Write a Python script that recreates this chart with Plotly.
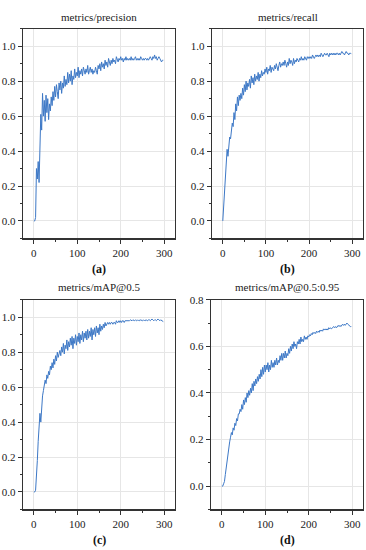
import plotly.graph_objects as go

epochs = list(range(0, 300, 2))

precision = [
    0.00, 0.00, 0.02, 0.30, 0.24, 0.34, 0.22, 0.45, 0.61, 0.52,
    0.73, 0.60, 0.69, 0.57, 0.72, 0.62, 0.70, 0.58, 0.67, 0.63,
    0.71, 0.66, 0.74, 0.69, 0.77, 0.71, 0.78, 0.74, 0.70, 0.79,
    0.75, 0.80, 0.73, 0.79, 0.76, 0.83, 0.77, 0.81, 0.78, 0.85,
    0.79, 0.84, 0.80, 0.86, 0.78, 0.83, 0.81, 0.87, 0.82, 0.85,
    0.83, 0.88, 0.82, 0.86, 0.84, 0.87, 0.83, 0.88, 0.85, 0.84,
    0.87, 0.85, 0.89, 0.84, 0.86, 0.88, 0.85, 0.87, 0.84, 0.86,
    0.85, 0.88, 0.86, 0.84, 0.89, 0.87, 0.90, 0.86, 0.91, 0.88,
    0.90, 0.87, 0.92, 0.89, 0.91, 0.88, 0.93, 0.90, 0.89, 0.92,
    0.90, 0.93, 0.91, 0.92, 0.90, 0.94, 0.92, 0.91, 0.93, 0.92,
    0.94, 0.92, 0.93, 0.91, 0.93, 0.92, 0.94, 0.92, 0.93, 0.92,
    0.93, 0.92, 0.94, 0.92, 0.93, 0.92, 0.93, 0.94, 0.92, 0.93,
    0.92, 0.93, 0.92, 0.94, 0.93, 0.92, 0.93, 0.92, 0.93, 0.93,
    0.92, 0.93, 0.92, 0.93, 0.94, 0.93, 0.92, 0.94, 0.93, 0.95,
    0.93, 0.94, 0.92, 0.93, 0.94, 0.93, 0.92, 0.91, 0.92, 0.92,
]

recall = [
    0.00, 0.08, 0.16, 0.24, 0.30, 0.41, 0.37, 0.44, 0.48, 0.47,
    0.51, 0.56, 0.54, 0.62, 0.58, 0.67, 0.63, 0.71, 0.66, 0.72,
    0.69, 0.73, 0.70, 0.76, 0.72, 0.78, 0.74, 0.80, 0.75, 0.79,
    0.77, 0.81, 0.76, 0.83, 0.79, 0.82, 0.78, 0.84, 0.80, 0.83,
    0.81, 0.85, 0.80, 0.84, 0.82, 0.86, 0.83, 0.85, 0.84, 0.87,
    0.85, 0.88, 0.84, 0.87, 0.86, 0.89, 0.85, 0.88, 0.87, 0.86,
    0.89, 0.87, 0.90, 0.88, 0.86, 0.89, 0.91, 0.88, 0.90, 0.89,
    0.91, 0.89, 0.92, 0.90, 0.88, 0.91, 0.89, 0.93, 0.90, 0.92,
    0.91, 0.89, 0.93, 0.90, 0.92, 0.91, 0.93, 0.92, 0.91, 0.93,
    0.92, 0.94, 0.92, 0.93, 0.92, 0.94, 0.93, 0.92, 0.94, 0.93,
    0.94, 0.93, 0.94, 0.93, 0.95, 0.94, 0.93, 0.94, 0.95, 0.94,
    0.95, 0.94, 0.95, 0.94, 0.96, 0.95, 0.94, 0.95, 0.96, 0.95,
    0.95, 0.96, 0.95, 0.94, 0.96, 0.95, 0.96, 0.95, 0.96, 0.95,
    0.96, 0.95, 0.96, 0.96, 0.95, 0.96, 0.95, 0.96, 0.97, 0.96,
    0.96, 0.95, 0.96, 0.97, 0.96, 0.96, 0.95, 0.96, 0.96, 0.955,
]

map50 = [
    0.00, 0.00, 0.01, 0.07, 0.18, 0.29, 0.38, 0.45, 0.40, 0.50,
    0.55, 0.58, 0.61, 0.64, 0.62, 0.67, 0.65, 0.69, 0.67, 0.72,
    0.70, 0.74, 0.71, 0.76, 0.73, 0.78, 0.75, 0.80, 0.77, 0.79,
    0.81, 0.78, 0.83, 0.80, 0.85, 0.79, 0.84, 0.82, 0.87, 0.81,
    0.86, 0.83, 0.88, 0.84, 0.89, 0.82, 0.88, 0.85, 0.90, 0.84,
    0.89, 0.86, 0.91, 0.85, 0.90, 0.87, 0.92, 0.86, 0.91, 0.88,
    0.92, 0.87, 0.93, 0.88, 0.92, 0.89, 0.94, 0.87, 0.93, 0.90,
    0.94, 0.89, 0.95, 0.91, 0.94, 0.90, 0.96, 0.92, 0.95, 0.93,
    0.96, 0.94, 0.97, 0.95, 0.96, 0.97, 0.96, 0.97, 0.96, 0.97,
    0.97, 0.96, 0.97, 0.97, 0.96, 0.98, 0.97, 0.97, 0.98, 0.97,
    0.98, 0.97, 0.98, 0.98, 0.97, 0.98, 0.98, 0.98, 0.98, 0.98,
    0.98, 0.985, 0.98, 0.98, 0.985, 0.98, 0.98, 0.985, 0.98, 0.985,
    0.98, 0.985, 0.98, 0.985, 0.98, 0.98, 0.985, 0.98, 0.985, 0.98,
    0.985, 0.98, 0.985, 0.985, 0.98, 0.985, 0.99, 0.985, 0.98, 0.985,
    0.985, 0.98, 0.985, 0.99, 0.985, 0.98, 0.985, 0.98, 0.975, 0.975,
]

map50_95 = [
    0.00, 0.00, 0.01, 0.02, 0.05, 0.08, 0.11, 0.15, 0.17, 0.19,
    0.21, 0.23, 0.22, 0.25, 0.24, 0.27, 0.26, 0.29, 0.28, 0.31,
    0.31, 0.33, 0.32, 0.35, 0.33, 0.37, 0.35, 0.38, 0.36, 0.40,
    0.38, 0.41, 0.39, 0.42, 0.40, 0.44, 0.41, 0.45, 0.43, 0.46,
    0.44, 0.47, 0.45, 0.48, 0.46, 0.50, 0.47, 0.51, 0.48, 0.52,
    0.49, 0.52, 0.50, 0.53, 0.49, 0.52, 0.50, 0.54, 0.51, 0.53,
    0.51, 0.54, 0.52, 0.55, 0.52, 0.54, 0.53, 0.56, 0.54, 0.57,
    0.54, 0.57, 0.55, 0.58, 0.55, 0.57, 0.56, 0.59, 0.57, 0.60,
    0.58, 0.61, 0.59, 0.62, 0.60, 0.61, 0.59, 0.62, 0.61, 0.63,
    0.61, 0.64, 0.62, 0.63, 0.62, 0.645, 0.63, 0.64, 0.63, 0.645,
    0.64, 0.65, 0.645, 0.655, 0.65, 0.66, 0.655, 0.66, 0.655, 0.665,
    0.66, 0.665, 0.66, 0.67, 0.665, 0.67, 0.665, 0.675, 0.67, 0.675,
    0.67, 0.675, 0.67, 0.68, 0.675, 0.68, 0.675, 0.68, 0.68, 0.685,
    0.68, 0.685, 0.68, 0.685, 0.69, 0.685, 0.69, 0.685, 0.69, 0.695,
    0.69, 0.695, 0.69, 0.695, 0.70, 0.695, 0.69, 0.685, 0.685, 0.685,
]

titles = ["metrics/precision", "metrics/recall", "metrics/mAP@0.5", "metrics/mAP@0.5:0.95"]
captions = ["(a)", "(b)", "(c)", "(d)"]
series = [precision, recall, map50, map50_95]
y_ranges = [[-0.1, 1.1], [-0.1, 1.1], [-0.1, 1.1], [-0.1, 0.8]]

W, H = 366, 550
# panel pixel boxes: left, right, top, bottom
boxes = [(23, 175, 23, 235), (212, 363, 23, 235), (23, 175, 297, 509), (211, 363, 297, 509)]
title_y = [11, 11, 284, 284]
cap_y = [266, 266, 540, 540]

FONT = "'Liberation Serif', 'DejaVu Serif', serif"
LINE_COLOR = "#3d78c6"
AX_COLOR = "#333333"

fig = go.Figure()
layout = dict(
    width=W, height=H, margin=dict(l=0, r=0, t=0, b=0),
    paper_bgcolor="white", plot_bgcolor="white", showlegend=False,
    font=dict(family=FONT, size=10, color="#222222"),
    annotations=[],
)

for i in range(4):
    n = "" if i == 0 else str(i + 1)
    l, r, t, b = boxes[i]
    fig.add_trace(go.Scatter(
        x=epochs, y=series[i], mode="lines",
        line=dict(color=LINE_COLOR, width=1),
        xaxis="x" + n, yaxis="y" + n,
    ))
    layout["xaxis" + n] = dict(
        domain=[l / W, r / W], anchor="y" + n, range=[-25, 325],
        tick0=0, dtick=100, ticks="outside", ticklen=4, tickwidth=1, tickcolor=AX_COLOR,
        showline=True, linecolor=AX_COLOR, linewidth=1.2, mirror=True,
        showgrid=True, gridcolor="#e6e6e6", gridwidth=1, zeroline=False,
        tickfont=dict(family=FONT, size=11, color="#222222"),
        minor=dict(dtick=50, tick0=0, ticks="outside", ticklen=2, tickcolor=AX_COLOR, showgrid=False),
        fixedrange=True,
    )
    layout["yaxis" + n] = dict(
        domain=[1 - b / H, 1 - t / H], anchor="x" + n, range=y_ranges[i],
        tick0=0, dtick=0.2, tickformat=".1f", ticks="outside", ticklen=4, tickwidth=1, tickcolor=AX_COLOR,
        showline=True, linecolor=AX_COLOR, linewidth=1.2, mirror=True,
        showgrid=True, gridcolor="#e6e6e6", gridwidth=1, zeroline=False,
        tickfont=dict(family=FONT, size=11, color="#222222"),
        minor=dict(dtick=0.1, tick0=0, ticks="outside", ticklen=2, tickcolor=AX_COLOR, showgrid=False),
        fixedrange=True,
    )
    cx = (l + r) / 2 / W
    layout["annotations"].append(dict(
        text=titles[i], x=cx, y=1 - title_y[i] / H, xref="paper", yref="paper",
        showarrow=False, xanchor="center", yanchor="middle",
        font=dict(family=FONT, size=11, color="#222222"),
    ))
    layout["annotations"].append(dict(
        text="<b>" + captions[i] + "</b>", x=cx, y=1 - cap_y[i] / H, xref="paper", yref="paper",
        showarrow=False, xanchor="center", yanchor="middle",
        font=dict(family=FONT, size=12, color="#111111"),
    ))

fig.update_layout(**layout)
fig.write_html(
    "out.html",
    config={"displayModeBar": False, "staticPlot": True},
    post_script="document.body.style.margin='0';document.body.style.padding='0';",
)
